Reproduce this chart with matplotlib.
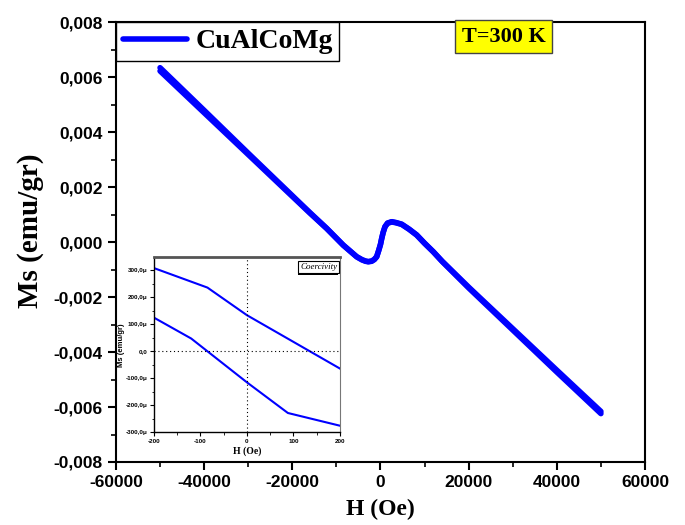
"""
Hysteresis loop of CuAlCoMg at 300 K with an inset zoom on the coercivity region.
"""

import matplotlib
matplotlib.use("Agg")
import matplotlib.pyplot as plt
from matplotlib.ticker import MultipleLocator, FuncFormatter
from matplotlib.patches import FancyBboxPatch


SERIF = "Liberation Serif"
SANS = "Liberation Sans"
LINE_COLOR = "#0000ff"

plt.rcParams["axes.unicode_minus"] = False

# main loop, field sweeping down then up (Oe, emu/gr)
h_down = [50000, 40000, 30000, 20000, 14000, 11977, 10000, 8212, 6500, 4809, 3500,
          2541, 1600, 1021, 600, 272, 0, -400, -862, -1400, -2000, -2767, -3400,
          -4200, -5399, -8438, -12204, -16000, -30000, -40000, -50000]
ms_down = [-0.00616, -0.00466, -0.00315, -0.00164, -0.00070, -0.00035, -0.00004,
           0.00026, 0.00047, 0.00065, 0.00071, 0.00074, 0.00069, 0.00056, 0.00035,
           0.00013, -0.00008, -0.00030, -0.00053, -0.00063, -0.00069, -0.00071,
           -0.00069, -0.00064, -0.00053, -0.00011, 0.00050, 0.00107, 0.00323,
           0.00479, 0.00634]
h_up = [-50000, -40000, -30000, -16000, -12204, -8438, -5399, -4200, -3400, -2767,
        -2000, -1400, -862, -400, 0, 272, 600, 1021, 1600, 2541, 3500, 4809, 6500,
        8212, 10000, 11977, 14000, 20000, 30000, 40000, 50000]
ms_up = [0.00622, 0.00470, 0.00318, 0.00105, 0.00049, -0.00012, -0.00054, -0.00065,
         -0.00070, -0.00072, -0.00070, -0.00064, -0.00054, -0.00031, -0.00009,
         0.00012, 0.00034, 0.00055, 0.00068, 0.00073, 0.00070, 0.00064, 0.00046,
         0.00025, -0.00005, -0.00036, -0.00071, -0.00167, -0.00320, -0.00473,
         -0.00624]

# inset: zoom on the loop near H = 0 (Oe, micro emu/gr)
inset_h_upper = [-200, -85, 0, 200]
inset_ms_upper = [307, 235, 133, -64]
inset_h_lower = [-200, -120, 0, 88, 200]
inset_ms_lower = [124, 47, -115, -228, -275]

main_xticks = [-60000, -40000, -20000, 0, 20000, 40000, 60000]
main_yticks = [-0.008, -0.006, -0.004, -0.002, 0.0, 0.002, 0.004, 0.006, 0.008]


def comma_fmt(val, _pos):
    return f"{val:.3f}".replace(".", ",").replace("-0,000", "0,000")


def micro_fmt(val, _pos):
    if abs(val) < 1e-9:
        return "0,0"
    return f"{val:.1f}".replace(".", ",") + "\u03bc"


fig = plt.figure(figsize=(6.85, 5.25), dpi=100)
ax = fig.add_axes([0.1693, 0.12, 0.7723, 0.838])

ax.plot(h_down, ms_down, color=LINE_COLOR, lw=4, solid_capstyle="round",
        solid_joinstyle="round", label="CuAlCoMg")
ax.plot(h_up, ms_up, color=LINE_COLOR, lw=4, solid_capstyle="round",
        solid_joinstyle="round")

ax.set_xlim(-60000, 60000)
ax.set_ylim(-0.008, 0.008)
ax.set_xticks(main_xticks)
ax.set_yticks(main_yticks)
ax.xaxis.set_minor_locator(MultipleLocator(10000))
ax.yaxis.set_minor_locator(MultipleLocator(0.001))
ax.yaxis.set_major_formatter(FuncFormatter(comma_fmt))
ax.tick_params(which="major", direction="out", length=6, width=1.5, top=False, right=False)
ax.tick_params(which="minor", direction="out", length=3.5, width=1.2, top=False, right=False)
for lbl in ax.get_xticklabels() + ax.get_yticklabels():
    lbl.set_fontfamily(SANS)
    lbl.set_fontweight("bold")
    lbl.set_fontsize(12.5)
for sp in ax.spines.values():
    sp.set_linewidth(1.5)

ax.set_xlabel("H (Oe)", fontfamily=SERIF, fontweight="bold", fontsize=17, labelpad=6)
ax.set_ylabel("Ms (emu/gr)", fontfamily=SERIF, fontweight="bold", fontsize=21)
ax.yaxis.set_label_coords(-0.136, 0.525)

leg = ax.legend(loc="upper left", borderaxespad=0, fancybox=False, framealpha=1,
                edgecolor="black", handlelength=2.3, handletextpad=0.3, borderpad=0.25,
                prop={"family": SERIF, "weight": "bold", "size": 20})
leg.get_frame().set_linewidth(1.0)

ax.text(0.733, 0.967, "T=300 K", transform=ax.transAxes, ha="center", va="center",
        fontfamily=SERIF, fontweight="bold", fontsize=16,
        bbox=dict(boxstyle="square,pad=0.3", facecolor="#ffff00", edgecolor="#444444", lw=1))

# inset
ins = fig.add_axes([0.2248, 0.1762, 0.2715, 0.3343])
ins.plot(inset_h_upper, inset_ms_upper, color=LINE_COLOR, lw=1.5)
ins.plot(inset_h_lower, inset_ms_lower, color=LINE_COLOR, lw=1.5)
ins.axvline(0, color="black", lw=0.8, ls=(0, (1, 2.5)))
ins.axhline(0, color="black", lw=0.8, ls=(0, (1, 2.5)))
ins.set_xlim(-200, 200)
ins.set_ylim(-300, 348)
ins.set_xticks([-200, -100, 0, 100, 200])
ins.set_yticks([-300, -200, -100, 0, 100, 200, 300])
ins.xaxis.set_minor_locator(MultipleLocator(50))
ins.yaxis.set_minor_locator(MultipleLocator(50))
ins.yaxis.set_major_formatter(FuncFormatter(micro_fmt))
ins.tick_params(which="major", direction="out", length=3, width=0.8, top=False, right=False, pad=1.5)
ins.tick_params(which="minor", direction="out", length=1.8, width=0.6, top=False, right=False)
for lbl in ins.get_xticklabels() + ins.get_yticklabels():
    lbl.set_fontfamily(SANS)
    lbl.set_fontweight("bold")
    lbl.set_fontsize(4.5)
ins.spines["top"].set_linewidth(2)
ins.spines["top"].set_color("#555555")
ins.spines["right"].set_linewidth(0.8)
ins.spines["right"].set_color("#777777")
ins.spines["left"].set_linewidth(1)
ins.spines["bottom"].set_linewidth(1)
ins.set_xlabel("H (Oe)", fontfamily=SERIF, fontweight="bold", fontsize=7, labelpad=2)
ins.set_ylabel("Ms (emu/gr)", fontfamily=SANS, fontweight="bold", fontsize=5.5)
ins.yaxis.set_label_coords(-0.155, 0.5)

ins.text(0.985, 0.965, "Coercivity", transform=ins.transAxes, ha="right", va="top",
         fontfamily=SERIF, fontstyle="italic", fontsize=6.5, zorder=5,
         bbox=dict(boxstyle="square,pad=0.2", facecolor="white", edgecolor="black", lw=0.8))
# shadow behind the label box
shadow = FancyBboxPatch((0.775, 0.898), 0.215, 0.072, boxstyle="square,pad=0",
                        transform=ins.transAxes, facecolor="black", edgecolor="none", zorder=4)
ins.add_patch(shadow)

fig.savefig("out.png", dpi=100)
